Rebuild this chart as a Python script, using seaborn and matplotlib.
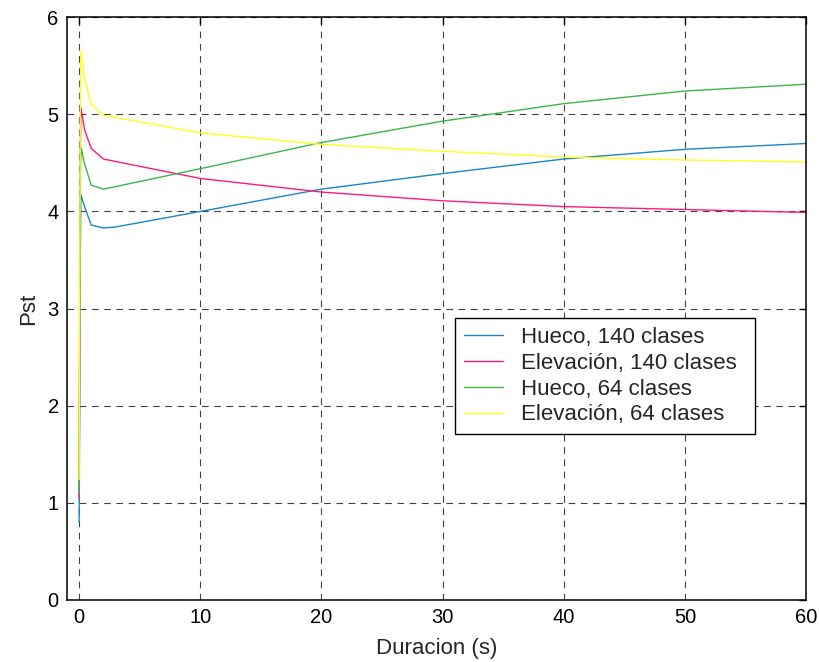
import numpy as np
import pandas as pd
import matplotlib
matplotlib.use("Agg")
import matplotlib.pyplot as plt
import seaborn as sns

# Duration (s) at which Pst was evaluated
duracion = [0, 0.1, 0.15, 0.45, 1, 2, 3, 10, 20, 30, 40, 50, 60]

# Pst for each disturbance type and number of classes
hueco_140 = [0.80, 3.60, 4.17, 4.05, 3.86, 3.83, 3.84, 4.00, 4.23, 4.39, 4.54, 4.64, 4.70]
elevacion_140 = [1.05, 4.60, 5.07, 4.84, 4.65, 4.54, 4.515, 4.34, 4.20, 4.11, 4.05, 4.02, 3.99]
hueco_64 = [1.10, 4.30, 4.66, 4.49, 4.27, 4.23, 4.256, 4.44, 4.71, 4.93, 5.11, 5.24, 5.31]
elevacion_64 = [1.24, 5.10, 5.66, 5.37, 5.10, 4.99, 4.968, 4.81, 4.69, 4.62, 4.56, 4.53, 4.51]

series_labels = ["Hueco, 140 clases", "Elevación, 140 clases",
                 "Hueco, 64 clases", "Elevación, 64 clases"]
series_values = [hueco_140, elevacion_140, hueco_64, elevacion_64]
series_colors = ["#1a86c6", "#ff1a80", "#3db54a", "#ffff1a"]

x_ticks = [0, 10, 20, 30, 40, 50, 60]
y_ticks = [0, 1, 2, 3, 4, 5, 6]

df = pd.concat(
    [pd.DataFrame({"Duracion": duracion, "Pst": vals, "serie": lab})
     for lab, vals in zip(series_labels, series_values)],
    ignore_index=True,
)

sns.set_style("white")
plt.rcParams["font.family"] = ["Liberation Sans", "DejaVu Sans"]
plt.rcParams["font.size"] = 14.5

fig = plt.figure(figsize=(8.2, 6.62), dpi=100)
ax = fig.add_axes([0.0817, 0.0937, 0.9013, 0.8803])

sns.lineplot(data=df, x="Duracion", y="Pst", hue="serie",
             hue_order=series_labels, palette=series_colors,
             estimator=None, sort=False, linewidth=1.0, legend=False, ax=ax)

ax.set_xlim(-1, 60)
ax.set_ylim(0, 6)
ax.set_xticks(x_ticks)
ax.set_yticks(y_ticks)
ax.set_xticklabels([str(v) for v in x_ticks])
ax.set_yticklabels([str(v) for v in y_ticks])
ax.set_xlabel("Duracion (s)", fontsize=16, labelpad=8)
ax.set_ylabel("Pst", fontsize=16, labelpad=6)

ax.grid(True, color="black", linestyle=(0, (6, 5)), linewidth=0.8, alpha=0.75)
ax.set_axisbelow(True)
for sp in ax.spines.values():
    sp.set_visible(True)
    sp.set_color("black")
    sp.set_linewidth(1.1)
ax.tick_params(direction="in", length=5, width=1.0, top=True, right=True,
               labelsize=14.5, colors="black", pad=6)

handles = ax.get_lines()[:4]
leg = ax.legend(handles, series_labels, loc="upper left",
                bbox_to_anchor=(0.525, 0.284, 0.4055, 0.2), mode="expand",
                fontsize=16, frameon=True, fancybox=False, framealpha=1,
                edgecolor="black", handlelength=1.75, handletextpad=0.8,
                labelspacing=0.22, borderpad=0.4, borderaxespad=0)
leg.get_frame().set_linewidth(1.0)

fig.savefig("out.png", dpi=100)
